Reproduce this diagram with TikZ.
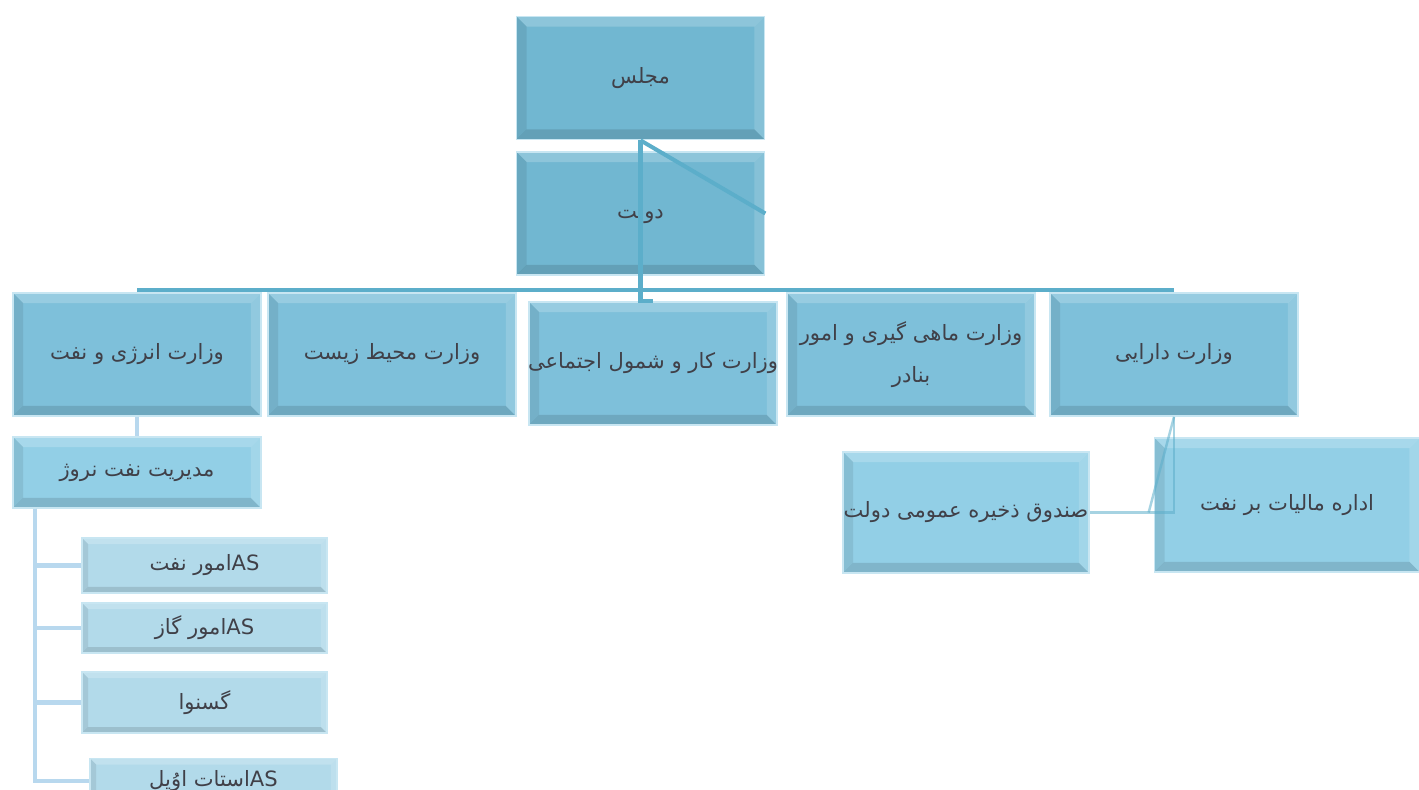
\documentclass[tikz,border=0pt]{standalone}
\usepackage{fontspec}
\usepackage{tikz}
\usetikzlibrary{calc}
\newfontfamily\farsi[Script=Arabic]{DejaVu Sans}
\TeXXeTstate=1
\definecolor{boxdark}{RGB}{113,183,209}
\definecolor{boxmid}{RGB}{126,192,218}
\definecolor{boxlight}{RGB}{146,207,230}
\definecolor{boxpale}{RGB}{178,218,234}
\definecolor{boxedge}{RGB}{200,230,242}
\definecolor{linkblue}{RGB}{92,174,202}
\definecolor{linkpale}{RGB}{184,216,238}
\definecolor{textgray}{RGB}{64,64,72}

\tikzset{
  bevel/.style={path picture={
    \coordinate (bsw) at (path picture bounding box.south west);
    \coordinate (bne) at (path picture bounding box.north east);
    \coordinate (bnw) at (path picture bounding box.north west);
    \coordinate (bse) at (path picture bounding box.south east);
    \fill[white,opacity=.2] (bnw) -- (bne) -- ([shift={(-#1,-#1)}]bne) -- ([shift={(#1,-#1)}]bnw) -- cycle;
    \fill[black,opacity=.08] (bnw) -- (bsw) -- ([shift={(#1,#1)}]bsw) -- ([shift={(#1,-#1)}]bnw) -- cycle;
    \fill[black,opacity=.12] (bsw) -- (bse) -- ([shift={(-#1,#1)}]bse) -- ([shift={(#1,#1)}]bsw) -- cycle;
    \fill[white,opacity=.15] (bse) -- (bne) -- ([shift={(-#1,-#1)}]bne) -- ([shift={(-#1,#1)}]bse) -- cycle;
  }},
  orgbox/.style={draw=boxedge,line width=1pt,fill=#1,bevel=0.2cm,inner sep=2pt,
    align=center,font=\farsi\fontsize{12}{24}\selectfont,text=textgray},
  bigbox/.style={orgbox=#1,minimum width=4.96cm,minimum height=2.46cm},
  subbox/.style={orgbox=boxpale,bevel=0.12cm,minimum width=4.9cm},
  overflow/.style={inner xsep=-0.4cm},
  link/.style={linkblue,line width=2.3pt},
  sublink/.style={linkpale,line width=2.3pt},
  faintlink/.style={linkblue,opacity=.55,line width=1.4pt}
}

\begin{document}
\begin{tikzpicture}[x=0.02cm,y=-0.02cm]
    \useasboundingbox (0,0) rectangle (1419,790);
    \clip (0,0) rectangle (1419,790);

    % Parliament and government
    \node[bigbox=boxdark] (majlis) at (640.5,78) {\beginR مجلس\endR};
    \node[bigbox=boxdark] (dolat) at (640.5,213.5) {\beginR دولت\endR};

    % Ministries
    \node[bigbox=boxmid] (energy) at (137,354.5) {\beginR وزارت انرژی و نفت\endR};
    \node[bigbox=boxmid] (env) at (392,354.5) {\beginR وزارت محیط زیست\endR};
    \node[bigbox=boxmid,overflow] (labour) at (653,363.5) {\beginR وزارت کار و شمول اجتماعی\endR};
    \node[bigbox=boxmid] (fish) at (911,354.5) {\beginR وزارت ماهی گیری و امور\endR\\\beginR بنادر\endR};
    \node[bigbox=boxmid] (finance) at (1174,354.5) {\beginR وزارت دارایی\endR};

    % Lower level
    \node[orgbox=boxlight,minimum width=4.96cm,minimum height=1.42cm] (npd) at (137,472.5) {\beginR مدیریت نفت نروژ\endR};
    \node[orgbox=boxlight,overflow,minimum width=4.92cm,minimum height=2.42cm] (fund) at (966,512.5) {\beginR صندوق ذخیره عمومی دولت\endR};
    \node[orgbox=boxlight,minimum width=5.3cm,minimum height=2.68cm] (tax) at (1287,505) {\beginR اداره مالیات بر نفت\endR};

    % Companies
    \node[subbox,minimum height=1.1cm] (petoro) at (204.5,565.5) {\beginR\beginL AS\endL امور نفت\endR};
    \node[subbox,minimum height=1.0cm] (gassco) at (204.5,628) {\beginR\beginL AS\endL امور گاز\endR};
    \node[subbox,minimum height=1.22cm] (gassnova) at (204.5,702.5) {\beginR گسنوا\endR};
    \node[subbox,minimum height=0.9cm,minimum width=4.94cm] (statoil) at (213.5,781) {\beginR\beginL AS\endL استات اوُیل\endR};

    % Connectors
    \draw[link] (majlis.south) |- (labour.north);
    \draw[link] (majlis.south) -- (dolat.east);
    \draw[link] ([yshift=0.04cm]energy.north) -- ([yshift=0.04cm]finance.north);
    \draw[sublink] (energy.south) -- (npd.north);
    \coordinate (spine) at ([xshift=0.46cm]npd.south west);
    \foreach \n in {petoro,gassco,gassnova,statoil}
        \draw[sublink] (spine) |- (\n.west);
    \draw[faintlink] (finance.south) |- (fund.east);
    \coordinate (kink) at ([xshift=-0.1cm]fund.east -| tax.west);
    \draw[faintlink] (finance.south) -- (kink);
\end{tikzpicture}
\end{document}
